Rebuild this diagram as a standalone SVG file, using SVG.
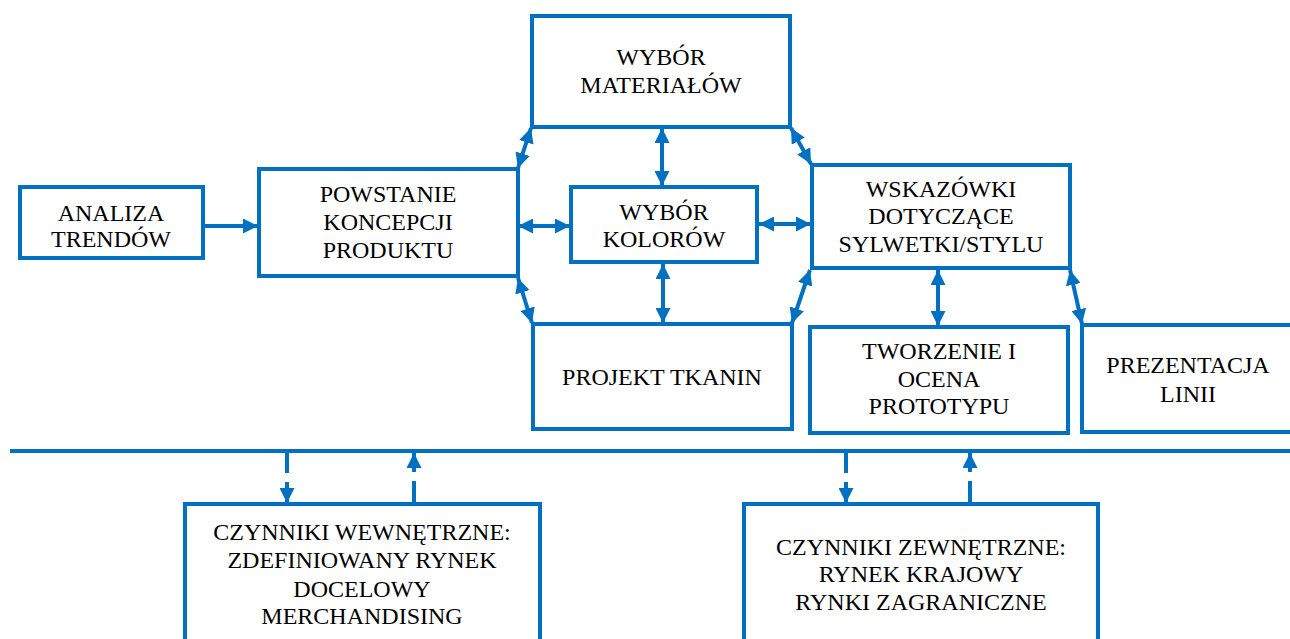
<svg xmlns="http://www.w3.org/2000/svg" width="1290" height="639" viewBox="0 0 1290 639">
  <defs>
    <marker id="head" viewBox="0 0 15 15" refX="15" refY="7.5" markerWidth="15" markerHeight="15" markerUnits="userSpaceOnUse" orient="auto-start-reverse">
      <path d="M0,0 L15,7.5 L0,15 z" fill="#0070C0"/>
    </marker>
    <style>
      .box { fill: #ffffff; stroke: #0070C0; stroke-width: 4; }
      .lbl { font-family: "Liberation Serif", "Times New Roman", serif; font-size: 24px; fill: #000000; text-anchor: middle; }
      .link { stroke: #0070C0; stroke-width: 4; fill: none; }
      .both { marker-start: url(#head); marker-end: url(#head); }
      .one { marker-end: url(#head); }
      .dash { stroke-dasharray: 22 9; }
    </style>
  </defs>
  <rect width="1290" height="639" fill="#ffffff"/>

  <!-- connectors -->
  <g id="connectors">
    <line class="link one" x1="203" y1="226" x2="258" y2="226"/>
    <line class="link both" x1="518" y1="226" x2="570" y2="226"/>
    <line class="link both" x1="759" y1="224" x2="811" y2="224"/>
    <line class="link both" x1="662" y1="128" x2="662" y2="186"/>
    <line class="link both" x1="663" y1="264" x2="663" y2="323"/>
    <line class="link both" x1="518" y1="168" x2="531" y2="128"/>
    <line class="link both" x1="791" y1="128" x2="811" y2="164"/>
    <line class="link both" x1="518" y1="278" x2="532" y2="323"/>
    <line class="link both" x1="810" y1="270" x2="792" y2="323"/>
    <line class="link both" x1="938" y1="270" x2="938" y2="326"/>
    <line class="link both" x1="1070" y1="270" x2="1082" y2="324"/>
    <!-- shared bus -->
    <line class="link" x1="10" y1="451" x2="1290" y2="451"/>
    <line class="link one dash" x1="287" y1="451" x2="287" y2="503"/>
    <line class="link one dash" x1="414" y1="503" x2="414" y2="453"/>
    <line class="link one dash" x1="846" y1="451" x2="846" y2="503"/>
    <line class="link one dash" x1="970" y1="503" x2="970" y2="453"/>
  </g>

  <g id="analiza">
    <rect class="box" x="20" y="187" width="183" height="71"/>
    <text class="lbl" x="111" y="221">ANALIZA</text>
    <text class="lbl" x="111" y="247">TRENDÓW</text>
  </g>

  <g id="powstanie">
    <rect class="box" x="259" y="169" width="259" height="107"/>
    <text class="lbl" x="388" y="202">POWSTANIE</text>
    <text class="lbl" x="388" y="230">KONCEPCJI</text>
    <text class="lbl" x="388" y="258">PRODUKTU</text>
  </g>

  <g id="materialy">
    <rect class="box" x="532" y="16" width="258" height="111"/>
    <text class="lbl" x="661" y="65">WYBÓR</text>
    <text class="lbl" x="661" y="93">MATERIAŁÓW</text>
  </g>

  <g id="kolory">
    <rect class="box" x="571" y="187" width="186" height="75"/>
    <text class="lbl" x="664" y="220">WYBÓR</text>
    <text class="lbl" x="664" y="247">KOLORÓW</text>
  </g>

  <g id="tkaniny">
    <rect class="box" x="533" y="324" width="259" height="105"/>
    <text class="lbl" x="662" y="385">PROJEKT TKANIN</text>
  </g>

  <g id="wskazowki">
    <rect class="box" x="812" y="165" width="258" height="103"/>
    <text class="lbl" x="941" y="197">WSKAZÓWKI</text>
    <text class="lbl" x="941" y="224">DOTYCZĄCE</text>
    <text class="lbl" x="941" y="252">SYLWETKI/STYLU</text>
  </g>

  <g id="prototyp">
    <rect class="box" x="810" y="327" width="258" height="106"/>
    <text class="lbl" x="939" y="359">TWORZENIE I</text>
    <text class="lbl" x="939" y="387">OCENA</text>
    <text class="lbl" x="939" y="414">PROTOTYPU</text>
  </g>

  <g id="prezentacja">
    <rect class="box" x="1082" y="325" width="220" height="107"/>
    <text class="lbl" x="1188" y="373">PREZENTACJA</text>
    <text class="lbl" x="1188" y="402">LINII</text>
  </g>

  <g id="czynniki-wewnetrzne">
    <rect class="box" x="185" y="504" width="355" height="160"/>
    <text class="lbl" x="362" y="540">CZYNNIKI WEWNĘTRZNE:</text>
    <text class="lbl" x="362" y="568">ZDEFINIOWANY RYNEK</text>
    <text class="lbl" x="362" y="597">DOCELOWY</text>
    <text class="lbl" x="362" y="624">MERCHANDISING</text>
  </g>

  <g id="czynniki-zewnetrzne">
    <rect class="box" x="744" y="504" width="354" height="160"/>
    <text class="lbl" x="921" y="555">CZYNNIKI ZEWNĘTRZNE:</text>
    <text class="lbl" x="921" y="582">RYNEK KRAJOWY</text>
    <text class="lbl" x="921" y="610">RYNKI ZAGRANICZNE</text>
  </g>
</svg>
